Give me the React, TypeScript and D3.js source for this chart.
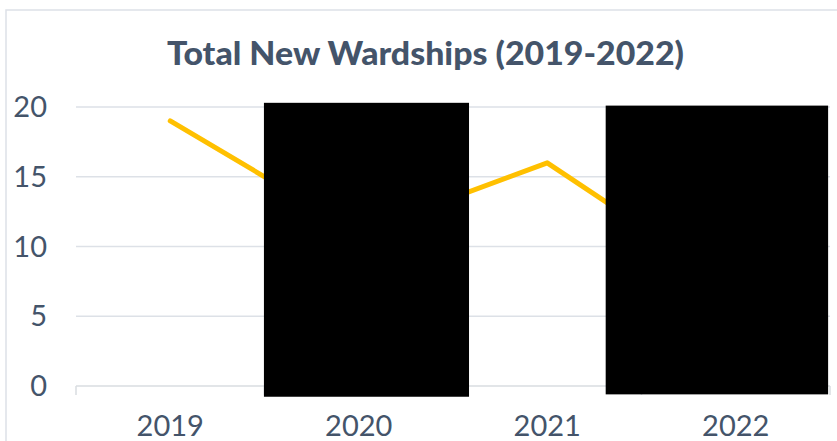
import React from "react";
import * as d3 from "d3";

const categories = ["2019", "2020", "2021", "2022"];
const values = [19, 11, 16, 7];
const yTicks = [0, 5, 10, 15, 20];
const title = "Total New Wardships (2019-2022)";
// redaction overlays in data units: [bandStart, bandEnd, valueTop, valueBottom]
const redactions = [
  [0.997, 2.085, 20.3, -0.77],
  [2.81, 3.99, 20.1, -0.6],
];

const W = 837;
const H = 441;

export default function App() {
  const xLin = d3.scaleLinear().domain([0, categories.length]).range([76, 830]);
  const y = d3.scaleLinear().domain([0, 20]).range([386, 107]);
  const cx = (i: number) => xLin(i + 0.5);
  const line = d3
    .line<number>()
    .x((_, i) => cx(i))
    .y((d) => y(d));
  const textColor = "#44546A";
  const gridColor = "#DDE1E7";
  const font = "Lato, 'Open Sans', sans-serif";

  return (
    <svg
      width={W}
      height={H}
      style={{ position: "absolute", left: 0, top: 0, background: "#fff" }}
    >
      <rect x={6} y={10} width={W + 20} height={H + 20} fill="#fff" stroke="#DDE1E7" strokeWidth={1.5} />
      <text
        x={425.5}
        y={65}
        textAnchor="middle"
        fontFamily={font}
        fontWeight={900}
        fontSize={32}
        fill={textColor}
        textLength={517}
        lengthAdjust="spacingAndGlyphs"
      >
        {title}
      </text>
      {yTicks.map((t) => (
        <g key={t}>
          {t !== 0 && (
            <line x1={xLin.range()[0]} x2={xLin.range()[1]} y1={y(t)} y2={y(t)} stroke={gridColor} strokeWidth={1.5} />
          )}
          <text
            x={47}
            y={y(t)}
            dy="0.35em"
            textAnchor="end"
            fontFamily={font}
            fontSize={29}
            fill={textColor}
          >
            {t}
          </text>
        </g>
      ))}
      <line x1={xLin.range()[0]} x2={xLin.range()[1]} y1={y(0)} y2={y(0)} stroke="#D9DCE1" strokeWidth={1.5} />
      {d3.range(categories.length + 1).map((i) => (
        <line key={i} x1={xLin(i)} x2={xLin(i)} y1={y(0)} y2={y(0) + 9} stroke="#D9DCE1" strokeWidth={1.5} />
      ))}
      {categories.map((c, i) => (
        <text
          key={c}
          x={cx(i)}
          y={436}
          textAnchor="middle"
          fontFamily={font}
          fontSize={29}
          fill={textColor}
        >
          {c}
        </text>
      ))}
      <path
        d={line(values) || ""}
        fill="none"
        stroke="#FFC000"
        strokeWidth={5}
        strokeLinejoin="round"
        strokeLinecap="round"
      />
      {redactions.map((r, i) => (
        <rect
          key={i}
          x={xLin(r[0])}
          y={y(r[2])}
          width={xLin(r[1]) - xLin(r[0])}
          height={y(r[3]) - y(r[2])}
          fill="#000"
        />
      ))}
    </svg>
  );
}
